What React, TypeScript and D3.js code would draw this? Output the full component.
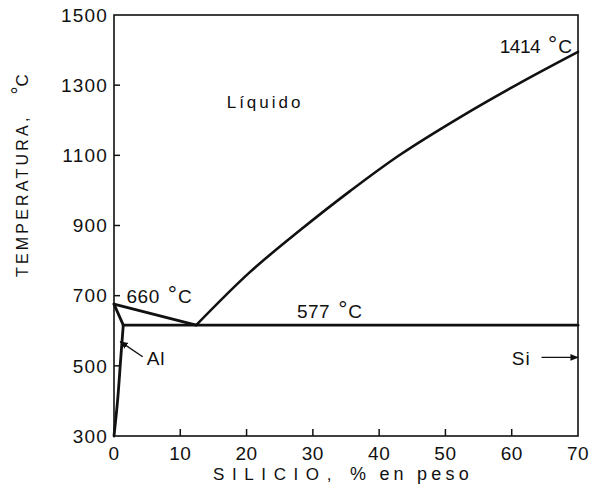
import React from 'react';
import * as d3 from 'd3';

// axis ticks
const siTicks = [0, 10, 20, 30, 40, 50, 60, 70];
const tempTicks = [300, 500, 700, 900, 1100, 1300, 1500];

// phase boundaries (% Si, °C)
const alLiquidus = [
  { si: 0, t: 676 },
  { si: 12.4, t: 616 },
];
const siLiquidus = [
  { si: 12.4, t: 616 },
  { si: 20.5, t: 767 },
  { si: 28.1, t: 887 },
  { si: 35.6, t: 998 },
  { si: 43.1, t: 1101 },
  { si: 52.5, t: 1212 },
  { si: 61.2, t: 1306 },
  { si: 70, t: 1395 },
];
const alSolidus = [
  { si: 0, t: 676 },
  { si: 1.4, t: 616 },
];
const eutectic = [
  { si: 1.4, t: 616 },
  { si: 70, t: 616 },
];
const alSolvus = [
  { si: 1.4, t: 616 },
  { si: 1.0, t: 517 },
  { si: 0.55, t: 403 },
  { si: 0, t: 300 },
];

// annotation anchors
const labels = [
  { text: 'Líquido', si: 17.0, t: 1235, size: 17, spacing: 3 },
  { text: '660', deg: true, si: 1.89, t: 679, size: 19, spacing: 0.5 },
  { text: '577', deg: true, si: 27.6, t: 636, size: 19, spacing: 0.5 },
  { text: '1414', deg: true, si: 58.2, t: 1392, size: 19, spacing: -0.5 },
  { text: 'Al', si: 4.93, t: 503, size: 19, spacing: 1 },
  { text: 'Si', si: 60.0, t: 502, size: 19, spacing: 1 },
];
const pointers = [
  { from: { si: 4.33, t: 526 }, to: { si: 0.95, t: 569 } },
  { from: { si: 64.5, t: 524 }, to: { si: 70, t: 524 } },
];

const W = 598;
const H = 501;
const left = 114, right = 578, top = 15, bottom = 436;

const App = () => {
  const x = d3.scaleLinear().domain([0, 70]).range([left, right]);
  const y = d3.scaleLinear().domain([300, 1500]).range([bottom, top]);

  const line = d3.line<{ si: number; t: number }>()
    .x(d => x(d.si))
    .y(d => y(d.t));
  const curve = d3.line<{ si: number; t: number }>()
    .x(d => x(d.si))
    .y(d => y(d.t))
    .curve(d3.curveCatmullRom.alpha(0.5));

  const font = '"Liberation Sans", Arial, sans-serif';

  return (
    <svg width={W} height={H} style={{ position: 'absolute', left: 0, top: 0, background: '#fff' }}
      fontFamily={font} fill="#111">
      <defs>
        <marker id="arrow" viewBox="0 0 10 10" refX="9" refY="5" markerWidth="6" markerHeight="6" orient="auto">
          <path d="M0,1 L10,5 L0,9 z" fill="#111" />
        </marker>
      </defs>

      {/* frame */}
      <rect x={left} y={top} width={right - left} height={bottom - top} fill="none" stroke="#111" strokeWidth={1.6} />

      {/* y ticks, inward */}
      {tempTicks.map(t => (
        <g key={'y' + t}>
          {t !== 300 && t !== 1500 && (
            <line x1={left} x2={left + 6} y1={y(t)} y2={y(t)} stroke="#111" strokeWidth={1.5} />
          )}
          <text x={left - 6} y={y(t) + 6.8} textAnchor="end" fontSize={19} letterSpacing={1.2}>{t}</text>
        </g>
      ))}

      {/* x ticks, inward */}
      {siTicks.map(s => (
        <g key={'x' + s}>
          {s !== 0 && s !== 70 && (
            <line x1={x(s)} x2={x(s)} y1={bottom} y2={bottom - 7} stroke="#111" strokeWidth={1.5} />
          )}
          <text x={x(s)} y={460} textAnchor="middle" fontSize={19} letterSpacing={0.5}>{s}</text>
        </g>
      ))}

      {/* axis titles */}
      <text x={213} y={480} fontSize={17} letterSpacing={7.6}>SILICIO,</text>
      <text x={350} y={480} fontSize={18} letterSpacing={4.2}>% en peso</text>

      <text transform="translate(27.5,277) rotate(-90)" fontSize={16} letterSpacing={3.2}>
        TEMPERATURA,
        <tspan dx={20} fontSize={20} dy={-2} letterSpacing={0}>°</tspan>
        <tspan fontSize={17} dy={2} letterSpacing={0}>C</tspan>
      </text>

      {/* phase boundaries */}
      <g fill="none" stroke="#111" strokeLinejoin="round" strokeLinecap="round">
        <path d={line(alLiquidus) || ''} strokeWidth={2.8} />
        <path d={curve(siLiquidus) || ''} strokeWidth={2.6} />
        <path d={line(alSolidus) || ''} strokeWidth={2.8} />
        <path d={line(eutectic) || ''} strokeWidth={2.8} />
        <path d={curve(alSolvus) || ''} strokeWidth={2.8} />
      </g>

      {/* annotations */}
      {labels.map(l => (
        <text key={l.text} x={x(l.si)} y={y(l.t)} fontSize={l.size} letterSpacing={l.spacing}>
          {l.text}
          {l.deg && (
            <>
              <tspan dx={8} fontSize={23} dy={-1} letterSpacing={0}>°</tspan>
              <tspan dy={1} dx={1} letterSpacing={0}>C</tspan>
            </>
          )}
        </text>
      ))}
      {pointers.map((p, i) => (
        <line key={i} x1={x(p.from.si)} y1={y(p.from.t)} x2={x(p.to.si)} y2={y(p.to.t)}
          stroke="#111" strokeWidth={1.4} markerEnd="url(#arrow)" />
      ))}
    </svg>
  );
};

export default App;
